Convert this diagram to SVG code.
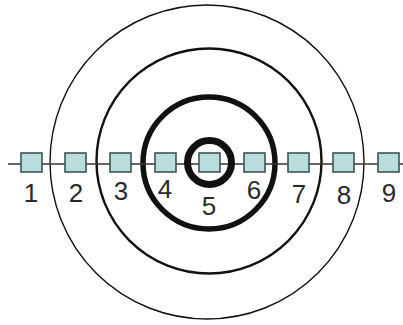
<svg xmlns="http://www.w3.org/2000/svg" width="403" height="325" viewBox="0 0 403 325">
<style>
.ring{fill:none;stroke:#111}
.box{fill:#b9dcdc;stroke:#3c5656;stroke-width:1.6}
.lbl{font-family:"Liberation Sans",Arial,sans-serif;font-size:26px;fill:#2a2a2a;text-anchor:middle}
</style>
<rect width="403" height="325" fill="#fff"/>
<g id="rings">
<circle class="ring" cx="207" cy="162" r="157" stroke-width="1.4"/>
<circle class="ring" cx="209" cy="161" r="112.5" stroke-width="2.4"/>
<circle class="ring" cx="209" cy="163" r="66" stroke-width="5.5"/>
</g>
<g id="connectors">
<line x1="8" y1="164" x2="403" y2="164" stroke="#333" stroke-width="1.6"/>
</g>
<g id="n1"><rect class="box" x="21" y="153" width="21" height="19"/><text class="lbl" x="31" y="202">1</text></g>
<g id="n2"><rect class="box" x="65" y="153" width="21" height="19"/><text class="lbl" x="76" y="202">2</text></g>
<g id="n3"><rect class="box" x="110" y="153" width="21" height="19"/><text class="lbl" x="121" y="200">3</text></g>
<g id="n4"><rect class="box" x="155" y="153" width="21" height="19"/><text class="lbl" x="165" y="198">4</text></g>
<g id="n5"><rect class="box" x="199" y="153" width="21" height="19"/><circle class="ring" cx="209.5" cy="162.5" r="22" stroke-width="7"/><text class="lbl" x="209" y="215">5</text></g>
<g id="n6"><rect class="box" x="244" y="153" width="21" height="19"/><text class="lbl" x="254" y="199">6</text></g>
<g id="n7"><rect class="box" x="288" y="153" width="21" height="19"/><text class="lbl" x="299" y="203">7</text></g>
<g id="n8"><rect class="box" x="333" y="153" width="21" height="19"/><text class="lbl" x="344" y="204">8</text></g>
<g id="n9"><rect class="box" x="378" y="153" width="21" height="19"/><text class="lbl" x="389" y="202">9</text></g>
</svg>
